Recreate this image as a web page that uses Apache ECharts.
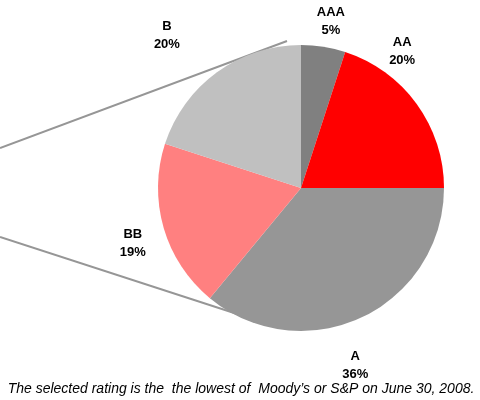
<!DOCTYPE html>
<html>
<head>
<meta charset="utf-8">
<script src="https://cdn.jsdelivr.net/npm/echarts@6/dist/echarts.min.js"></script>
<style>
  html, body { margin: 0; padding: 0; background: #fff; }
  #chart { width: 480px; height: 400px; }
</style>
</head>
<body>
<div id="chart"></div>
<script>
// 数据
const ratings = ['AAA', 'AA', 'A', 'BB', 'B'];
const shares = [5, 20, 36, 19, 20];
const sliceColors = ['#808080', '#ff0000', '#969696', '#ff8080', '#c0c0c0'];
const footnote = 'The selected rating is the  the lowest of  Moody\u2019s or S&P on June 30, 2008.';

// 饼图位置
const PIE_CX = 301;
const PIE_CY = 188;
const PIE_R = 143;
const LABEL_R = 172;
// 标签微调 (Excel 的标签不在扇区中线上)
const labelNudge = [[3, 3], [-38, -35], [-19, 22], [-3, 7], [-33, -13]];

const total = shares.reduce((a, b) => a + b, 0);

const chartDom = document.getElementById('chart');
const myChart = echarts.init(chartDom);

const option = {
  animation: false,
  color: sliceColors,
  graphic: [
    {
      type: 'line',
      z: 0,
      shape: { x1: 0, y1: 148, x2: 287, y2: 41 },
      style: { stroke: '#969696', lineWidth: 2 }
    },
    {
      type: 'line',
      z: 0,
      shape: { x1: 0, y1: 237, x2: 265, y2: 323 },
      style: { stroke: '#969696', lineWidth: 2 }
    },
    {
      type: 'text',
      x: 241,
      y: 389,
      style: {
        text: footnote,
        fill: '#000',
        font: 'italic 14px "Liberation Sans", Arial, sans-serif',
        align: 'center',
        verticalAlign: 'middle'
      }
    }
  ],
  series: [
    {
      type: 'pie',
      z: 5,
      center: [PIE_CX, PIE_CY],
      radius: [0, PIE_R],
      startAngle: 90,
      clockwise: true,
      silent: true,
      avoidLabelOverlap: false,
      data: ratings.map((name, i) => ({ name: name, value: shares[i] })),
      itemStyle: { borderWidth: 0 },
      label: {
        show: true,
        position: 'outside',
        formatter: '{b}\n{c}%',
        color: '#000',
        fontFamily: '"Liberation Sans", Arial, sans-serif',
        fontWeight: 'bold',
        fontSize: 13,
        lineHeight: 18,
        overflow: 'none'
      },
      labelLine: { show: false, length: 5, length2: 0 },
      labelLayout: function (params) {
        const i = params.dataIndex;
        let cum = 0;
        for (let k = 0; k < i; k++) cum += shares[k];
        const theta = (cum + shares[i] / 2) / total * 2 * Math.PI;
        return {
          x: PIE_CX + LABEL_R * Math.sin(theta) + labelNudge[i][0],
          y: PIE_CY - LABEL_R * Math.cos(theta) + labelNudge[i][1],
          align: 'center',
          verticalAlign: 'middle'
        };
      }
    }
  ]
};

option && myChart.setOption(option);
</script>
</body>
</html>
